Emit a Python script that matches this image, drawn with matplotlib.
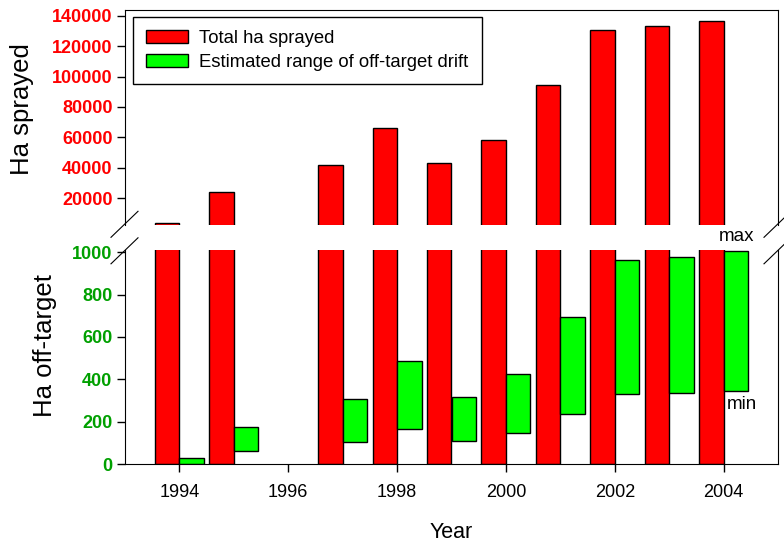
import numpy as np
import matplotlib
matplotlib.use('Agg')
import matplotlib.pyplot as plt
from matplotlib.lines import Line2D
from matplotlib.patches import Patch

plt.rcParams['font.family'] = ['Liberation Sans', 'DejaVu Sans']

# data (1996 has no values)
years = [1994, 1995, 1997, 1998, 1999, 2000, 2001, 2002, 2003, 2004]
total_sprayed = [4000, 24000, 42100, 66200, 43200, 58100, 94300, 130600, 133200, 136700]
drift_min = [0, 63, 105, 167, 110, 146, 239, 332, 335, 344]
drift_max = [28, 177, 309, 486, 317, 427, 693, 962, 979, 1003]
top_ticks = [20000, 40000, 60000, 80000, 100000, 120000, 140000]
bottom_ticks = [0, 200, 400, 600, 800, 1000]
x_ticks = [1994, 1996, 1998, 2000, 2002, 2004]

W, H = 784, 542
fig = plt.figure(figsize=(W / 100, H / 100), dpi=100)

left, right = 125, 778
ax_top = fig.add_axes([left / W, 1 - 225 / H, (right - left) / W, (225 - 10) / H])
ax_bot = fig.add_axes([left / W, 1 - 464.3 / H, (right - left) / W, (464.3 - 250) / H])

bw = 0.45
red = '#ff0000'
green = '#00ff00'
yrs = np.array(years)
lo = np.array(drift_min)
hi = np.array(drift_max)

# top panel - total sprayed
ax_top.bar(yrs - bw, total_sprayed, width=bw, align='edge', color=red,
           edgecolor='black', linewidth=1)
ax_top.set_xlim(1993, 2005)
ax_top.set_ylim(2460, 143700)
ax_top.set_yticks(top_ticks)
ax_top.set_yticklabels([str(t) for t in top_ticks], color=red,
                       fontweight='bold', fontsize=13)
ax_top.tick_params(axis='y', direction='out', length=6, width=1, pad=3)
ax_top.tick_params(axis='x', bottom=False, labelbottom=False)
ax_top.spines['bottom'].set_visible(False)
ax_top.set_ylabel('Ha sprayed', fontsize=18.5)
ax_top.yaxis.set_label_coords(-0.140, 0.54)

# legend
handles = [Patch(facecolor=red, edgecolor='black', label='Total ha sprayed'),
           Patch(facecolor=green, edgecolor='black',
                 label='Estimated range of off-target drift')]
leg = ax_top.legend(handles=handles, loc='upper left',
                    bbox_to_anchor=(0.012, 0.967), borderaxespad=0,
                    fontsize=13.3, fancybox=False, framealpha=1,
                    edgecolor='black', handlelength=2.3, handleheight=0.7,
                    borderpad=0.7, labelspacing=0.4, handletextpad=0.6)
leg.get_frame().set_linewidth(1)

# bottom panel - off-target drift
ax_bot.bar(yrs - bw, total_sprayed, width=bw, align='edge', color=red,
           edgecolor='black', linewidth=1)
ax_bot.bar(yrs, hi - lo, bottom=lo, width=bw, align='edge', color=green,
           edgecolor='black', linewidth=1)
ax_bot.set_xlim(1993, 2005)
ax_bot.set_ylim(0, 1010)
ax_bot.set_yticks(bottom_ticks)
ax_bot.set_yticklabels([str(t) for t in bottom_ticks], color='#00a000',
                       fontweight='bold', fontsize=13)
ax_bot.set_xticks(x_ticks)
ax_bot.set_xticklabels([str(t) for t in x_ticks], fontsize=13)
ax_bot.tick_params(axis='both', direction='out', length=6, width=1, pad=3)
ax_bot.tick_params(axis='x', pad=8)
ax_bot.spines['top'].set_visible(False)
ax_bot.set_ylabel('Ha off-target', fontsize=18.5)
ax_bot.yaxis.set_label_coords(-0.1046, 0.552)
ax_bot.set_xlabel('Year', fontsize=15.5, labelpad=15)

ax_bot.text(2003.92, 1072, 'max', fontsize=13.5, ha='left', va='center',
            clip_on=False)
ax_bot.text(2004.06, 280, 'min', fontsize=13.5, ha='left', va='center')

# break marks on both spines
for xs in (left, right):
    for yc in (224.3, 250.8):
        fig.add_artist(Line2D([(xs - 14) / W, (xs + 13) / W],
                              [1 - (yc + 13) / H, 1 - (yc - 13) / H],
                              transform=fig.transFigure, color='black',
                              linewidth=0.8))

fig.savefig('out.png', dpi=100)
